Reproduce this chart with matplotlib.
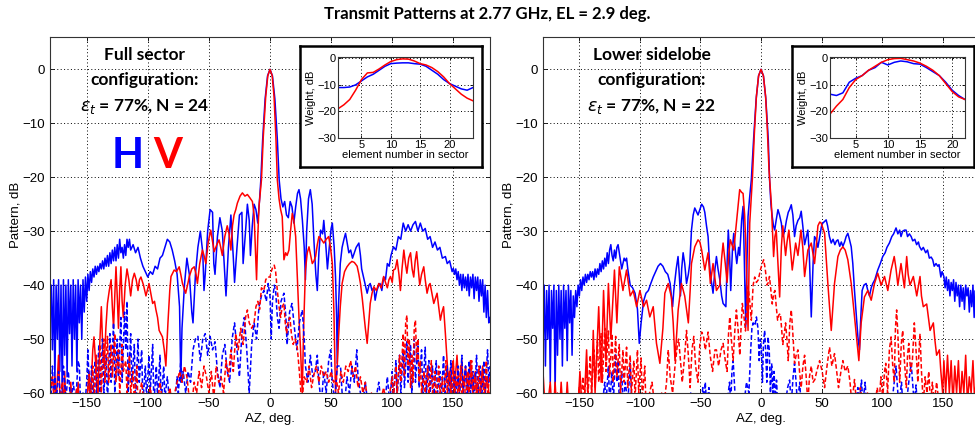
import numpy as np
import matplotlib
matplotlib.use("Agg")
import matplotlib.pyplot as plt

left_h = [(-180,-44),(-179,-40),(-178,-52),(-177,-39),(-176,-58),(-175,-40),(-174,-50),(-173,-39),(-172,-56),(-171,-40),(-170,-60),(-169,-39),(-168,-53),(-167,-40),(-166,-57),(-165,-39),(-164,-49),(-163,-40),(-162,-55),(-161,-39),(-160,-50),(-159,-40),(-158,-56),(-157,-39),(-156,-47),(-155,-40),(-154,-50),(-153,-39),(-152,-45),(-151,-38.5),(-150,-43),(-149,-38),(-148,-41),(-147,-37.5),(-146,-39.5),(-145,-37),(-144,-38.5),(-143,-36.5),(-142,-38),(-141,-36.5),(-140,-37.5),(-139,-36),(-138,-37),(-137,-35.5),(-136,-37),(-135,-35),(-134,-36.5),(-133,-34.5),(-132,-36.5),(-131,-34),(-130,-36),(-129,-33.5),(-128,-35.5),(-127,-33),(-126,-35.5),(-125,-32.5),(-124,-35),(-123,-31.5),(-122,-34),(-121,-33),(-120,-35),(-119,-32.5),(-118,-34.5),(-117,-31.5),(-116,-33),(-115,-31.5),(-114,-33.5),(-112,-32.5),(-110,-34),(-108,-33),(-106,-35),(-104,-36.5),(-102,-37.5),(-100,-38.5),(-98,-37.5),(-96,-38),(-94,-36.5),(-92,-37),(-90,-35),(-88,-34.5),(-86,-33),(-84,-31.5),(-82,-32),(-80,-33.5),(-78,-35.5),(-76,-38),(-74,-44),(-73,-58),(-72,-48),(-70,-40),(-68,-35),(-66,-38),(-64,-45),(-63,-47),(-61,-38),(-59,-33),(-57,-30),(-55,-34),(-54,-41),(-53,-38),(-51,-30),(-49,-26),(-47,-26.5),(-46,-36),(-45,-38),(-43,-31),(-41,-27.5),(-39,-30),(-37,-38),(-36,-42),(-34,-33),(-32,-27),(-30,-35),(-29,-39.5),(-27,-33),(-25,-27),(-23,-26.5),(-22,-36),(-20,-30),(-18.5,-25),(-17,-28),(-16,-34.5),(-14.5,-29),(-13,-25),(-11.5,-26),(-10,-28.5),(-8.5,-24),(-7.5,-20.5),(-6,-13),(-4,-5.5),(-2,-1.2),(0,0),(2,-1.2),(4,-5.5),(6,-13),(7.5,-20.5),(9,-24),(10.5,-25.5),(12,-24.5),(13.5,-27),(15,-27.5),(16.5,-24.5),(18,-25.5),(19.5,-28.5),(21,-25.5),(22.5,-23),(23.7,-22.3),(25,-24),(26.5,-28),(28,-33),(29,-39),(30,-30),(31.5,-24),(33,-22.3),(34.5,-25),(36,-32),(37.5,-38),(38.7,-41),(40,-34),(41.4,-29.8),(43,-30.5),(44,-28),(45.5,-32),(47,-37),(48.5,-33),(50,-29.5),(51,-28.5),(52.5,-33),(53.6,-38.4),(54.5,-46),(55,-54.5),(56,-44),(57.5,-36),(59,-33),(60.5,-31.5),(61.8,-30.4),(63,-32),(64.5,-34),(66,-33.5),(67.5,-35),(69,-34),(70.5,-33),(72.7,-32.2),(74,-34.5),(75,-37),(76.5,-38.5),(78,-40),(79.5,-41.5),(81,-40),(82,-39.7),(83.5,-41),(85,-40.5),(86,-42.8),(87.5,-41),(89,-40),(90,-39.7),(91.5,-41),(93,-38.5),(94.5,-39),(96,-36),(97.5,-36.5),(99,-34.5),(101,-32.9),(103,-33.5),(105,-31),(107,-31.5),(109,-28.5),(111,-30),(113,-28.8),(115,-30),(117,-28.8),(119,-28.2),(121,-30),(123,-28.5),(125,-30),(127,-29.5),(129,-31.5),(131,-31),(133,-33),(135,-32),(137,-33.5),(139,-33),(141,-35),(143.5,-34.7),(145,-36),(147,-35.5),(149,-37.5),(150,-36.9),(151,-38),(152,-37),(153,-39),(154,-37.5),(155,-40),(156,-38),(157,-41),(158,-38),(159,-40.5),(160,-38.5),(161,-41),(162,-38),(163,-42),(164,-38.5),(165,-40.5),(166,-38),(167,-42.5),(168,-38.5),(169,-41),(170,-38.5),(171,-43),(172,-39),(173,-42),(174,-39),(175,-45),(176,-40),(177,-46),(178,-41),(179,-47),(180,-46)]

left_v = [(-180,-60),(-178,-62),(-176,-57),(-175,-62),(-173,-53),(-172,-60),(-171,-62),(-169,-62),(-168,-56),(-167,-62),(-164,-62),(-163,-58),(-162,-62),(-158,-62),(-157,-58),(-156,-62),(-150,-62),(-148,-56),(-147,-62),(-145,-52),(-144,-49.6),(-142.5,-55),(-141,-62),(-139.5,-52),(-138,-44),(-136.8,-52),(-135.6,-55),(-134.3,-48),(-133,-43.4),(-131.5,-41),(-130,-39),(-129,-44),(-128,-48),(-127,-42),(-126,-36.6),(-125,-42),(-124,-48),(-123,-41),(-122,-36.6),(-121,-43),(-120,-46),(-118.5,-40),(-117,-37),(-115.5,-39),(-114,-42),(-112.5,-39),(-111,-37.8),(-109.5,-39),(-108,-41),(-106.8,-39),(-105.6,-38.5),(-103.5,-40),(-101.5,-42),(-99,-39.7),(-97.5,-41.5),(-96,-43.4),(-94.5,-43),(-93.4,-44.5),(-92,-46),(-90.7,-48.4),(-88,-49.6),(-86.5,-52),(-85.2,-55),(-83.5,-47),(-82,-41),(-81,-38.4),(-78.4,-37.2),(-76.5,-37.5),(-74.3,-36.6),(-73,-38),(-71.6,-39.7),(-69,-41.5),(-67.5,-40),(-66,-38.4),(-64,-37),(-62,-36.6),(-60.5,-38),(-59.4,-39.7),(-57.5,-36),(-55.3,-33.5),(-54,-34.5),(-52.5,-36),(-50.5,-32),(-48.5,-29.8),(-47,-32),(-45.7,-33.8),(-43.5,-32.5),(-41.7,-31.6),(-40.3,-33),(-39,-34.5),(-37,-31),(-35,-29),(-33.5,-30.5),(-32,-33.5),(-30.7,-29),(-29.4,-27),(-28,-26),(-26.7,-24.8),(-24.5,-23.5),(-22.6,-22.9),(-20.5,-23.5),(-18.5,-23.2),(-16.5,-23.8),(-14.4,-24.5),(-13,-27),(-12,-33),(-11,-39),(-10,-31),(-9,-25.4),(-7,-20.5),(-5.5,-12.5),(-3.5,-5),(-1.8,-1.2),(0,0),(1.8,-1.2),(3.3,-5),(4.8,-12.5),(6,-20.5),(7.4,-24),(8.7,-26),(10,-27.3),(11.4,-35.3),(12.8,-34),(14,-34.5),(15.5,-33.5),(16.8,-30),(18.2,-26.7),(19.5,-28),(21,-31),(22.3,-38),(23.7,-45.9),(25,-52),(26.4,-60),(27.5,-48),(29,-37.2),(30.5,-34),(31.9,-32.9),(33.3,-34.5),(34.6,-36),(36,-35.5),(37.3,-34.7),(38.7,-32.5),(40,-31),(42,-31.5),(44,-32.2),(46,-31.5),(48,-31),(49.5,-33),(51,-36),(52.3,-45),(53.6,-60),(55,-55),(56,-50),(57.5,-44),(59,-39.7),(61,-37.5),(63,-36.6),(65,-36),(67,-35.6),(69,-35.8),(71.3,-36.5),(72.7,-38),(74,-39.7),(75.5,-42.5),(76.8,-45.3),(78,-48),(79.5,-50.8),(80.8,-47),(82,-43.4),(83.5,-41.5),(85,-40.3),(87,-41),(89,-39.7),(91,-40.5),(93,-38.4),(94.5,-39.5),(96,-40.5),(97.3,-39),(98.6,-38.4),(100,-39.5),(101,-37.2),(102.5,-37),(104,-35.3),(105.5,-38),(106.7,-41),(108,-37),(109.5,-33.5),(110.8,-36),(112,-37.8),(113.5,-35),(115,-34),(116.3,-37),(117.6,-38.5),(118.8,-35.5),(120,-33.8),(121.3,-37),(122.5,-40),(124,-38),(125.8,-36.6),(127,-39),(128.5,-41.5),(130,-40),(131,-39.7),(132.5,-41.5),(134,-43.4),(135.3,-42.5),(136.7,-41.5),(138,-44),(139.4,-46.5),(140.7,-45),(142,-44),(143.5,-49),(145,-54.5),(146,-58),(147,-56),(148,-60),(149,-55),(150,-54),(151,-60),(152,-56),(153,-53),(154,-57),(155,-60),(156,-56),(157,-54),(158,-60),(159,-57),(160,-55),(161,-58),(162,-60),(163,-56),(164,-54),(165,-58),(166,-60),(167,-57),(168,-56),(169,-60),(170,-58),(171,-60),(172,-62),(173,-57),(174,-55),(175,-59),(176,-60),(177,-58),(178,-57),(179,-60),(180,-60)]

left_hx = [(-180,-57),(-179,-60),(-178,-55),(-177,-61),(-176,-57),(-175,-62),(-173,-56),(-171,-62),(-169,-55),(-167,-61),(-165,-56),(-163,-62),(-161,-58),(-159,-62),(-157,-54),(-156,-55),(-155,-62),(-153,-60),(-151,-61),(-150,-58),(-149,-52),(-148,-58),(-147,-62),(-146,-55),(-145,-62),(-143,-54),(-142,-61),(-140,-51),(-139,-60),(-137,-50),(-136,-60),(-134,-53),(-133,-62),(-131,-49),(-130,-58),(-128,-47),(-127,-60),(-125,-50),(-124,-57),(-122,-46),(-121,-58),(-119,-45),(-118,-52),(-117,-43),(-116,-60),(-114,-49),(-113,-58),(-111,-51),(-110,-62),(-108,-50),(-107,-58),(-105,-52),(-104,-62),(-102,-55),(-101,-61),(-99,-53),(-98,-60),(-96,-51),(-95,-62),(-93,-55),(-92,-61),(-90,-53),(-89,-62),(-87,-55),(-86,-61),(-84,-57),(-82,-62),(-78,-62),(-76,-57),(-75,-60),(-73,-54),(-72,-58),(-71,-56),(-69,-60),(-67,-56),(-65,-58),(-63,-52),(-61,-50),(-59,-49.5),(-57,-54),(-55,-50),(-53,-49),(-51,-53),(-49,-49.5),(-47,-52),(-45,-50.5),(-43,-56),(-41,-59),(-39,-53),(-37,-51),(-35,-56),(-33,-58),(-31,-50),(-29,-47),(-27,-52),(-25,-57),(-23,-49),(-21,-46),(-19,-52),(-17,-60),(-15,-51),(-13,-47),(-11,-50),(-9,-44),(-7,-42),(-5,-41),(-3,-43),(-1.5,-39.7),(0,-42),(1,-50),(2,-43),(3.5,-40),(4.6,-41),(6,-46),(7.4,-48),(9,-43),(11.4,-41.5),(13,-46),(14,-51),(16,-45),(18,-43.4),(20,-48),(22,-52),(24,-47),(26.4,-44.6),(28,-50),(29,-55),(31,-58),(33,-53),(35,-57),(37,-56),(38.7,-53),(40,-58),(42,-62),(44,-56),(46,-60),(48,-54),(49.6,-52),(51,-58),(53,-62),(55,-55),(57.7,-55),(59,-60),(61,-62),(63,-57),(65,-60),(67,-55),(69,-58),(71,-52),(72,-57),(74,-60),(76,-62),(78,-58),(80,-62),(83,-60),(86,-62),(89,-58),(91,-62),(94,-62),(96,-57),(98,-62),(100,-56),(101,-61),(103,-54),(104,-61),(106,-53),(107,-60),(109,-52),(110,-59),(112,-50.5),(113,-58),(115,-51),(116,-60),(118,-50),(119,-58),(121,-51),(122,-59),(124,-52),(125,-60),(127,-51.5),(128,-60),(130,-54),(131,-60),(133,-55),(134,-61),(136,-54),(137,-60),(139,-56),(140,-62),(142,-53),(143,-60),(145,-55),(146,-62),(148,-54),(149,-60),(151,-56),(152,-62),(154,-55),(155,-61),(157,-53),(158,-60),(160,-55),(161,-62),(163,-54),(164,-60),(166,-56),(167,-62),(169,-53),(170,-60),(172,-55),(173,-62),(175,-54),(176,-60),(178,-52),(179,-58),(180,-55)]

left_vx = [(-180,-60),(-178,-57),(-176,-62),(-172,-62),(-170,-58),(-168,-62),(-160,-62),(-158,-59),(-156,-62),(-150,-62),(-148,-57),(-147,-62),(-145,-55),(-144,-62),(-142,-53),(-141,-60),(-139,-51),(-138,-60),(-136,-50),(-135,-58),(-133,-49.5),(-132,-58),(-130,-51),(-129,-57),(-127,-49),(-126,-58),(-124,-52),(-123,-60),(-121,-51),(-120,-56),(-118,-54),(-117,-60),(-115,-53),(-114,-60),(-112,-56),(-111,-62),(-109,-55),(-108,-62),(-105,-58),(-103,-62),(-100,-62),(-98,-59),(-96,-62),(-92,-62),(-90,-58),(-88,-62),(-84,-62),(-82,-59),(-80,-62),(-76,-58),(-74,-56),(-72,-58),(-70,-55),(-68,-57),(-66,-61),(-64,-62),(-62,-58),(-60,-60),(-58,-56),(-56,-59),(-54,-55),(-52,-57),(-50,-60),(-48,-56),(-46,-61),(-44,-55),(-42,-58),(-40,-57),(-38,-60),(-36,-54),(-34,-57),(-32,-52),(-30,-56),(-28,-49),(-26,-52),(-24,-48),(-22,-51),(-20,-46),(-18.5,-44.6),(-17,-47),(-15,-48),(-13,-47),(-11.5,-44),(-10,-43),(-8.5,-44.5),(-7,-40.5),(-5,-41),(-3.5,-39),(-2,-38.5),(0,-38.5),(1,-37.5),(2.5,-36.5),(3.5,-36.3),(4.6,-37.5),(6,-41),(7.4,-44),(8.7,-46),(10,-44),(11.4,-43.4),(12.5,-47),(13.6,-49),(15,-46.5),(16.3,-46),(17.5,-49),(19,-51),(20.5,-50),(22.3,-51.5),(24,-56),(26,-62),(28,-57),(30,-58),(32,-55),(34,-59),(36,-56.5),(38,-55),(40,-58),(42,-55),(44,-57),(46,-56),(48,-58),(50,-56),(52,-58),(54,-57),(56,-60),(58,-56),(60,-58),(62,-55),(64,-56),(66,-54),(68,-57),(70,-55),(72,-59),(74,-57),(76,-60),(78,-58),(80,-62),(83,-60),(86,-62),(90,-62),(93,-59),(95,-62),(98,-60),(100,-57),(101,-61),(103,-55),(104,-60),(106,-53),(107,-58),(109,-49),(110,-57),(111,-47),(112,-45.6),(113,-55),(114,-50),(115,-59),(116,-53),(117,-58),(118,-48),(119,-46.5),(120,-54),(121,-50),(122,-58),(123,-54),(124,-60),(126,-56),(127,-60),(129,-55),(130,-61),(132,-54),(133,-60),(135,-56),(136,-62),(138,-55),(139,-60),(141,-57),(142,-62),(144,-54),(145,-60),(147,-56),(148,-62),(150,-55),(151,-60),(153,-57),(154,-62),(156,-55),(157,-61),(159,-57),(160,-62),(162,-56),(163,-60),(165,-54),(166,-61),(168,-57),(169,-62),(171,-55),(172,-60),(174,-56),(175,-62),(177,-54),(178,-60),(180,-57)]

right_h = [(-180,-52),(-179,-40),(-178,-55),(-177,-41),(-176,-50),(-175,-40),(-174,-58),(-173,-41),(-172,-48),(-171,-40),(-170,-60),(-169,-41),(-168,-53),(-167,-40),(-166,-50),(-165,-41),(-164,-55),(-163,-40),(-162,-48),(-161,-41),(-160,-54),(-159,-40),(-158,-47),(-157,-41),(-156,-53),(-155,-42),(-154,-46),(-153,-41),(-152,-44),(-151,-40),(-150,-42),(-149,-39),(-148,-41),(-147,-38.5),(-146,-40),(-145,-38),(-144,-39.5),(-143,-38),(-142,-39),(-141,-37.5),(-140,-38.5),(-139,-37.5),(-138,-39),(-137,-37),(-136,-38.5),(-135,-37),(-134,-38),(-133,-36),(-132,-37.5),(-131,-35.5),(-130,-37),(-129,-35),(-128,-36.5),(-127,-34),(-126,-36),(-125,-33.5),(-124,-32.5),(-123,-34.5),(-122,-35.5),(-121,-33.5),(-120,-35),(-119,-33),(-118,-32.5),(-117,-34),(-116,-35.5),(-115,-37),(-114,-36),(-113,-35),(-112,-35.5),(-111,-35),(-110,-37),(-109,-38.5),(-108,-40),(-106,-40.5),(-104,-41.5),(-102,-44.5),(-100.5,-50.8),(-99,-47),(-97,-43),(-95,-41.5),(-93,-41),(-91,-39.7),(-89,-38.5),(-87,-37.5),(-85,-36.5),(-83,-36),(-81,-36.5),(-79,-37.5),(-77,-38),(-75,-39.7),(-74,-42),(-73,-44),(-72,-41),(-71,-39),(-70,-37),(-68.5,-34.7),(-67.5,-38),(-66.5,-42),(-65.5,-37),(-64.3,-34),(-63,-36),(-61.5,-39.7),(-60,-38),(-58.8,-36),(-57.4,-29.8),(-56,-27),(-54.7,-25.7),(-53,-26.5),(-52,-27),(-50.5,-26),(-49,-25),(-47.5,-25.5),(-46.4,-26.5),(-45,-29),(-43.7,-31),(-42.5,-36),(-41.8,-38),(-39.6,-41.5),(-38,-37),(-36.8,-34.7),(-35.5,-37),(-34,-39),(-32.5,-42),(-31.3,-43.4),(-29,-44),(-28,-36),(-27,-29.8),(-26,-34),(-25,-41),(-23.5,-33),(-22.5,-30.4),(-21,-34),(-20,-36),(-18.5,-33),(-17.6,-34.5),(-16,-28),(-14.8,-25.4),(-13.8,-35),(-12.6,-47.7),(-11.5,-35),(-10.7,-27.3),(-9.5,-24),(-8,-20.5),(-6,-12.5),(-4,-5.5),(-2,-1.2),(0,0),(2,-1.2),(4,-5.5),(6,-13),(7.1,-20.5),(8.2,-25),(9.3,-27.3),(10.3,-29),(11.3,-29.8),(12.5,-28),(14,-26),(15.3,-27),(16.8,-28.5),(18,-31),(19.5,-30),(21,-28),(22.5,-26.5),(23.6,-26),(25,-25.1),(26.3,-27),(27.7,-31),(29,-29),(30.5,-28),(32,-27.5),(33.2,-26.3),(34.5,-29),(36,-32.5),(37.5,-31),(38.7,-29.8),(40,-35),(41.5,-45.9),(43,-36),(44.2,-31),(45.5,-31.5),(47,-33),(48.5,-31),(50,-29),(51,-28.5),(52.5,-28.2),(53.8,-27.9),(55,-29),(56.5,-31),(58,-32.2),(59.5,-31.5),(61,-32.5),(62.3,-31.8),(63.5,-31.6),(65,-32.8),(66.3,-32),(67.6,-32.8),(69,-32),(70.3,-31),(71.7,-30.4),(73,-31.5),(74.5,-32.9),(75.8,-36),(77.2,-41),(78.5,-45),(80,-49.6),(81.3,-52),(82.4,-46),(83.5,-41),(85,-40),(86.8,-39.7),(88.2,-41),(89.6,-42),(91,-40.5),(92.3,-39.7),(94,-39),(96.4,-37.2),(98.5,-36),(100.5,-34.7),(102.5,-34),(104,-33),(106,-32.2),(108,-31),(109.5,-30.5),(111.5,-29.4),(113,-30.5),(114.5,-29.8),(115.6,-31),(117,-30),(118.5,-29.8),(119.8,-29.8),(121,-31),(122.5,-30.5),(124,-31),(125.3,-31.8),(127,-31.5),(128.5,-32.5),(130,-32),(130.8,-32.8),(132.5,-33.5),(134,-33),(136,-34),(137.5,-33.5),(139,-35),(140.5,-34.8),(141.8,-35.3),(143,-36.5),(144.5,-36),(146,-36.5),(147,-36.2),(148.5,-38.5),(149.5,-37.5),(151,-38.4),(152,-40.5),(153,-38.5),(154,-41),(155,-39),(156,-42),(157,-39.5),(158,-41),(159,-39),(160,-43),(161,-39.5),(162,-42),(163,-40),(164,-44),(165,-40),(166,-43),(167,-40.5),(168,-44.5),(169,-40),(170,-42),(171,-40.5),(172,-45),(173,-41),(174,-44),(175,-40),(176,-46),(177,-41),(178,-47),(179,-42),(180,-48)]

right_v = [(-180,-56),(-179,-60),(-178,-62),(-176,-62),(-174,-58),(-173,-62),(-171,-62),(-170,-58),(-169,-62),(-166,-62),(-165,-58),(-164,-62),(-161,-62),(-160,-58),(-159,-62),(-151,-62),(-149.5,-56),(-148,-62),(-146,-62),(-144,-52),(-142.5,-62),(-140,-62),(-138.5,-48.4),(-137,-60),(-134,-44),(-132,-58),(-130,-41),(-128,-54),(-126,-39.7),(-124,-50),(-121,-37.2),(-119,-47),(-117,-36.6),(-114,-41),(-111,-37.2),(-108,-42),(-105.5,-41),(-102.7,-44),(-100,-41),(-97,-44),(-94.5,-42.8),(-91.8,-45.9),(-89,-44),(-86.3,-50.8),(-83.5,-54.5),(-81,-48),(-79.4,-41.5),(-76.6,-39.7),(-74,-42.2),(-72.5,-47),(-71,-54),(-68.4,-44.6),(-65.7,-39.7),(-63,-42),(-60,-47),(-58.5,-41),(-57.4,-36),(-54.7,-32.9),(-52,-31.6),(-50.5,-32),(-49,-33.5),(-46.4,-37.2),(-43.7,-34),(-41.8,-39.7),(-39.6,-36),(-36.8,-41),(-34,-40),(-32.5,-35),(-31.3,-32.2),(-29.5,-36),(-28,-39.5),(-26.5,-34),(-25.3,-31.6),(-22.5,-33.5),(-19.8,-27.3),(-17.6,-22.3),(-16,-22.8),(-14.8,-23),(-13.5,-27),(-12.6,-32),(-10.7,-48.4),(-9.3,-28.5),(-7,-19.8),(-5.5,-12),(-3.8,-5),(-2,-1.2),(0,0),(2,-1.2),(3.8,-5),(5.2,-11),(6.6,-18.6),(8.5,-24.8),(10.4,-34.7),(11.5,-31),(12.6,-29.8),(14,-36),(15.4,-42.2),(16.8,-33),(18,-29),(20.3,-34.5),(21.5,-32),(23,-29.8),(25.8,-37.2),(28.6,-32.2),(30.5,-34.5),(33,-29.8),(34.5,-33),(36,-38.4),(38.7,-33.5),(41.5,-32.2),(44.2,-36),(45.5,-33),(47,-29),(48.5,-28.3),(49.7,-28.5),(52.5,-30.4),(55.2,-39.7),(58,-48.4),(60.7,-39.7),(63.5,-34.7),(65.5,-33.5),(67.6,-32.9),(69.5,-33.5),(71.7,-35.3),(74.5,-39.7),(77.2,-45.9),(79,-50),(80.8,-54),(82.7,-47),(85.4,-42.2),(88.2,-41),(91,-42.8),(93.7,-39.7),(96.4,-37.8),(99.2,-40),(102,-38.4),(104.7,-41),(107.4,-37.2),(110,-34.7),(111.5,-37),(113,-40),(115.6,-36),(118.4,-40.5),(120.3,-34.7),(121.5,-38),(123,-40),(125.8,-38.4),(128.6,-42),(131.3,-38.4),(132.5,-42),(134,-44),(136.8,-43.5),(138.2,-46),(139.6,-48.4),(142.3,-47),(143.5,-50),(145,-53),(147.3,-52),(148.5,-56),(150,-60),(151,-54),(152.5,-60),(154,-53),(155.5,-60),(157,-54),(158.5,-62),(160,-55),(161.5,-60),(163,-54),(164.5,-62),(166,-56),(167.5,-60),(169,-53),(170.5,-62),(172,-57),(173.5,-60),(175,-54),(176.5,-62),(178,-56),(179,-60),(180,-58)]

right_hx = [(-180,-62),(-131,-62),(-129,-58),(-128,-62),(-126,-55),(-125,-62),(-123,-56),(-122,-62),(-120,-52.7),(-119,-58),(-118,-54),(-117,-62),(-115,-56),(-114,-62),(-112,-58),(-110,-62),(-108,-54.5),(-107,-60),(-106,-62),(-60,-62),(-58,-60),(-57,-62),(-50,-62),(-48,-59),(-47,-62),(-46,-58),(-45,-62),(-43,-59),(-42,-62),(-28,-62),(-26,-58),(-25,-62),(-24,-56),(-23,-54),(-22,-58),(-21,-62),(-14,-62),(-12,-58),(-10,-60),(-8.5,-52),(-7.5,-48),(-6.5,-47),(-5,-47.5),(-3.8,-45.9),(-2.5,-48),(-1.5,-54),(-0.5,-50),(0.3,-52),(1.2,-58),(2,-51),(3,-48.4),(4,-53),(4.8,-58),(5.8,-49.6),(6.8,-52),(7.8,-60),(8.8,-54.5),(9.8,-60),(10.8,-56),(11.8,-62),(12.8,-57.6),(13.8,-62),(20,-62),(22,-59),(23.6,-57.6),(25,-62),(26.5,-57),(27.7,-54.5),(29,-58),(30,-62),(32,-58),(33,-62),(78,-62),(80,-59),(81,-62),(83,-57.6),(84,-62),(86,-58),(87,-62),(108,-62),(110,-58),(111.5,-55),(113,-60),(114,-62),(116,-58),(117,-62),(119,-60),(120,-62),(122,-58),(124,-54.5),(125.5,-59),(126.5,-62),(128,-58.5),(129,-62),(180,-62)]

right_vx = [(-180,-62),(-170,-62),(-168,-60),(-166,-62),(-152,-62),(-150,-59),(-149,-62),(-147,-57),(-146,-62),(-144,-55),(-143,-61),(-141,-53),(-140,-60),(-138,-52),(-137,-59),(-135,-50),(-134,-58),(-132,-49),(-131,-58),(-129,-48),(-128,-56),(-126,-48.5),(-125,-57),(-123,-49),(-122,-58),(-120,-49.5),(-119,-57),(-117,-51),(-116,-60),(-114,-52),(-113,-58),(-111,-51.5),(-110,-59),(-108,-53),(-107,-60),(-105,-54),(-104,-61),(-102,-52),(-101,-60),(-99,-53.5),(-98,-61),(-96,-55),(-95,-62),(-92,-60),(-90,-58),(-88,-62),(-84,-62),(-82,-60),(-80,-62),(-78,-58),(-76.6,-52),(-75,-57),(-73,-60),(-71,-55),(-69,-51),(-68,-50),(-66.5,-54),(-65,-58),(-63,-53),(-61.5,-48.4),(-60,-53),(-58.5,-59),(-57,-52),(-55.5,-49.5),(-54,-55),(-52,-58),(-50.5,-51),(-49,-48.7),(-47.5,-49.5),(-46,-52),(-43.7,-48.7),(-42,-53),(-40,-56),(-38,-52),(-36.8,-52),(-35,-55),(-33,-52),(-31.3,-50.8),(-29.5,-54),(-28,-56),(-26.8,-49),(-25.8,-45.9),(-24.5,-50),(-23,-54),(-21.5,-48),(-20.3,-44.6),(-19,-48),(-17.5,-53),(-16.3,-47),(-15.4,-43.4),(-14,-46),(-12.8,-48.5),(-11.7,-44),(-10.7,-40.3),(-9.3,-43),(-8,-46.5),(-6.5,-40),(-5.2,-38.5),(-3.8,-39.5),(-2.2,-39),(-0.5,-37.2),(1,-36),(2.2,-35.3),(3.5,-37),(5,-40),(6,-39.5),(7,-38.4),(8.2,-41),(9.3,-43.5),(10.5,-41.5),(11.5,-41),(12.6,-44),(13.7,-46.5),(14.8,-45.5),(16,-45.3),(17,-48),(18,-51),(19.2,-49),(20.3,-47),(21.4,-50),(22.5,-54),(23.8,-47),(25,-44.6),(26.3,-49),(27.7,-54.5),(29,-53),(30.5,-52),(31.8,-56),(33.2,-59),(34.6,-55),(36,-53),(37.3,-57),(38.7,-62),(40,-57),(41.5,-55),(43,-58),(44.5,-57.5),(46,-56),(48.4,-54),(50.5,-56),(52.5,-59),(54.5,-55),(56.6,-51.5),(58.5,-55),(60.7,-52.7),(62.5,-56),(64,-59),(66,-56),(67.6,-54),(69.5,-56),(71.7,-55),(73.5,-58),(75,-62),(77.2,-57.5),(78.5,-61),(80,-62),(82,-59),(84,-62),(88,-60),(90,-62),(94,-62),(96,-59),(97.5,-62),(99,-57),(100.5,-61),(102,-56),(103,-54.5),(104.5,-60),(106,-52),(107.4,-49.6),(108.8,-55),(110,-58),(111,-48),(112,-44.6),(113.2,-50),(114.5,-58),(115.8,-51),(117,-48.4),(118.4,-54),(120,-59),(121,-53),(122,-50.8),(123.5,-56),(125,-54),(126.6,-47),(128,-52),(129.5,-58),(130.5,-52),(131.3,-49),(132.5,-56),(134,-62),(135.5,-57),(137,-60),(138.5,-56),(140,-62),(141.5,-58),(143,-62),(145,-58),(147,-62),(150,-62),(180,-62)]

# ---- element weights (inset), dB ----
left_elem = list(range(1, 25))
left_w_h = [-11, -11, -10.8, -10, -8.5, -7, -6, -4.5, -3, -2, -1.8, -1.7, -1.7, -2, -2.2, -3, -4.5, -6, -8, -9.5, -10.5, -11.5, -12, -11]
left_w_v = [-19, -17.5, -15.5, -12, -8, -5.5, -5.3, -4, -2.5, -1.2, -0.5, -0.2, -0.3, -1, -2, -2.5, -3.5, -5, -7, -9.5, -11.5, -13.5, -15, -16]
right_elem = list(range(1, 23))
right_w_h = [-13.5, -14, -13, -9, -7.5, -6.5, -4.5, -3.5, -1.5, -2.5, -1.5, -1, -1.3, -2, -2.2, -3.5, -5, -6.5, -9, -12, -14, -15.5]
right_w_v = [-21, -18, -15.5, -11, -8, -6.5, -4.5, -3, -1.5, -0.5, -0.1, 0, -0.5, -1, -1.8, -3, -4.5, -6.5, -9.5, -12.5, -14.5, -15.5]

W, H = 975, 429
fig = plt.figure(figsize=(W / 100, H / 100), dpi=100)

TICKFONT = 'Liberation Sans'
ANNOFONT = 'Lato'


def px_axes(x0, y0, x1, y1, **kw):
    return fig.add_axes([x0 / W, 1 - y1 / H, (x1 - x0) / W, (y1 - y0) / H], **kw)


def style_grid(ax):
    ax.grid(True, color='k', linestyle=(0, (1, 2.5)), linewidth=0.7)
    ax.tick_params(direction='in', top=True, right=True, length=3, width=0.6)
    for s in ax.spines.values():
        s.set_linewidth(0.8)
        s.set_color('#333333')


def draw_panel(x0, x1, h, v, hx, vx, lines, elem, wh, wv, box):
    ax = px_axes(x0, 37, x1, 393)
    for data, col, ls in [(h, 'b', '-'), (v, 'r', '-'), (hx, 'b', (0, (3, 1.6))), (vx, 'r', (0, (3, 1.6)))]:
        arr = np.array(data)
        ax.plot(arr[:, 0], arr[:, 1], color=col, linestyle=ls, linewidth=1.1)
    ax.set_xlim(-180, 180)
    ax.set_ylim(-60, 6)
    ax.set_xticks([-150, -100, -50, 0, 50, 100, 150])
    ax.set_yticks([-60, -50, -40, -30, -20, -10, 0])
    style_grid(ax)
    for lab in ax.get_xticklabels() + ax.get_yticklabels():
        lab.set_fontfamily(TICKFONT)
        lab.set_fontsize(9.5)
    ax.set_xlabel('AZ, deg.', fontfamily=TICKFONT, fontsize=9.5, labelpad=2)
    ax.set_ylabel('Pattern, dB', fontfamily=TICKFONT, fontsize=9.5, labelpad=1)

    cx = (x0 + 95) if x0 < 300 else (x0 + 109)
    for txt, yy in lines:
        fig.text(cx / W, 1 - yy / H, txt, ha='center', va='center',
                 fontfamily=ANNOFONT, fontweight='bold', fontsize=12.5)

    # inset frame and weights
    bx0, by0, bx1, by1 = box
    frame = px_axes(bx0, by0, bx1, by1)
    frame.set_xticks([])
    frame.set_yticks([])
    for s in frame.spines.values():
        s.set_linewidth(1.8)
        s.set_color('k')
    ins = px_axes(bx0 + 38, 57, bx1 - 9, 138)
    ins.plot(elem, wh, color='b', linewidth=1.1)
    ins.plot(elem, wv, color='r', linewidth=1.1)
    ins.set_xlim(1, elem[-1])
    ins.set_ylim(-30, 0.5)
    ins.set_xticks([5, 10, 15, 20])
    ins.set_yticks([-30, -20, -10, 0])
    style_grid(ins)
    ins.tick_params(length=2, pad=1.5)
    for lab in ins.get_xticklabels() + ins.get_yticklabels():
        lab.set_fontfamily(TICKFONT)
        lab.set_fontsize(8)
    ins.set_xlabel('element number in sector', fontfamily=TICKFONT, fontsize=8, labelpad=0)
    ins.set_ylabel('Weight, dB', fontfamily=TICKFONT, fontsize=8, labelpad=1)
    return ax


draw_panel(50, 490, left_h, left_v, left_hx, left_vx,
           [('Full sector', 55), ('configuration:', 80), (r'$\varepsilon_t$ = 77%, N = 24', 107)],
           left_elem, left_w_h, left_w_v, (300, 46, 482, 167))
draw_panel(543, 979, right_h, right_v, right_hx, right_vx,
           [('Lower sidelobe', 55), ('configuration:', 80), (r'$\varepsilon_t$ = 77%, N = 22', 107)],
           right_elem, right_w_h, right_w_v, (792, 46, 974, 167))

fig.text(128 / W, 1 - 156 / H, 'H', color='b', ha='center', va='center',
         fontfamily=ANNOFONT, fontweight='bold', fontsize=30)
fig.text(168 / W, 1 - 156 / H, 'V', color='r', ha='center', va='center',
         fontfamily=ANNOFONT, fontweight='bold', fontsize=30)

fig.text(487 / W, 1 - 14 / H, 'Transmit Patterns at 2.77 GHz, EL = 2.9 deg.',
         ha='center', va='center', fontfamily=ANNOFONT, fontweight='bold', fontsize=12)

fig.savefig('out.png', dpi=100)
